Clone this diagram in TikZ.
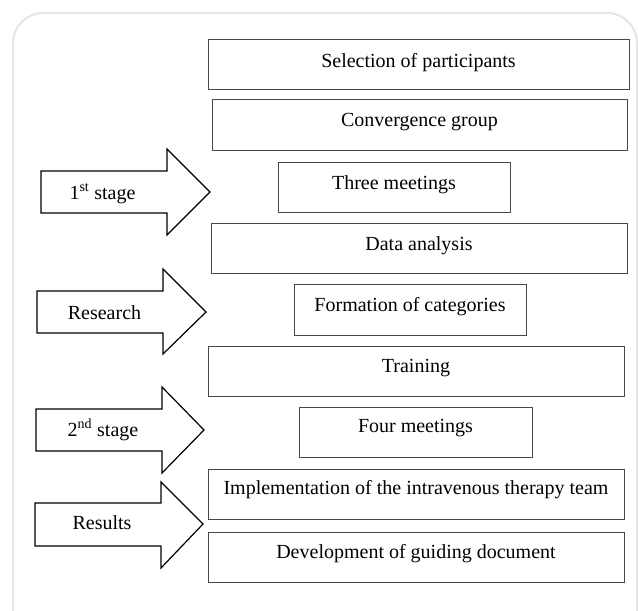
\documentclass[tikz,border=0pt]{standalone}
\usepackage{fontspec}
\setmainfont{Liberation Serif}
\begin{document}
\begin{tikzpicture}[x=1pt,y=-1pt,
  box/.style={draw=black!72,line width=1pt},
  bigarrow/.style={draw=black,line width=1.2pt,line join=miter,fill=white},
  lbl/.style={font=\fontsize{20}{24}\selectfont,anchor=base,inner sep=0pt},
  frame/.style={draw=black!10,line width=2pt,rounded corners=30pt}]
\useasboundingbox (0,0) rectangle (638,611);
\draw[frame] (13,640) -- (13,13) -- (637,13) -- (637,640);
% boxes
\draw[box] (208,39) rectangle (629,89);
\draw[box] (212,99) rectangle (627,150);
\draw[box] (278,162) rectangle (510,212);
\draw[box] (211,223) rectangle (627,273);
\draw[box] (294,284) rectangle (526,335);
\draw[box] (208,346) rectangle (624,396);
\draw[box] (299,407) rectangle (532,457);
\draw[box] (208,469) rectangle (624,519);
\draw[box] (208,532) rectangle (624,582);
\node[lbl] (t1) at (418.5,67) {Selection of participants};
\node[lbl] (t2) at (419.5,126) {Convergence group};
\node[lbl] (t3) at (394,189) {Three meetings};
\node[lbl] (t4) at (419,250) {Data analysis};
\node[lbl] (t5) at (410,311) {Formation of categories};
\node[lbl] (t6) at (416,372) {Training};
\node[lbl] (t7) at (415.5,432) {Four meetings};
\node[lbl] (t8) at (416,494) {Implementation of the intravenous therapy team};
\node[lbl] (t9) at (416,558) {Development of guiding document};
% arrows
\draw[bigarrow] (41,171) -- (167,171) -- (167,149) -- (210,192) -- (167,235) -- (167,213) -- (41,213) -- cycle;
\draw[bigarrow] (37,291) -- (163,291) -- (163,269) -- (206,312) -- (163,354) -- (163,333) -- (37,333) -- cycle;
\draw[bigarrow] (36,409) -- (162,409) -- (162,387) -- (204,430) -- (162,473) -- (162,451) -- (36,451) -- cycle;
\draw[bigarrow] (35,503) -- (161,503) -- (161,482) -- (203,524) -- (161,568) -- (161,546) -- (35,546) -- cycle;
\node[lbl] (a1) at (102.5,199) {1\textsuperscript{st} stage};
\node[lbl] (a2) at (104.5,319) {Research};
\node[lbl] (a3) at (103,436) {2\textsuperscript{nd} stage};
\node[lbl] (a4) at (102,529) {Results};
\end{tikzpicture}
\end{document}
